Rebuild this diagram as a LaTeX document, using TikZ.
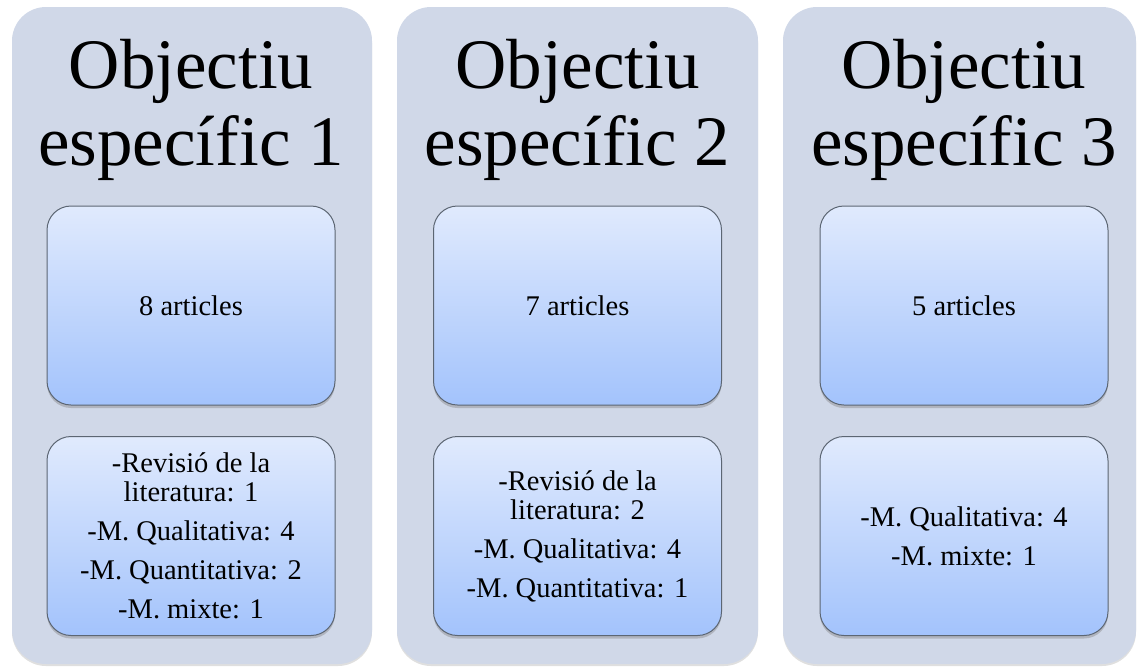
\documentclass[tikz,border=0pt]{standalone}
\usepackage{fontspec}
\setmainfont{Liberation Serif}
\usetikzlibrary{shadows}
\definecolor{panelgray}{HTML}{D0D8E8}
\definecolor{boxtop}{HTML}{E0EAFD}
\definecolor{boxbottom}{HTML}{A3C3FC}
\definecolor{boxline}{HTML}{5C6673}
\tikzset{
  panel/.style={rounded corners=34pt, fill=panelgray, inner sep=0pt,
    minimum height=657pt,
    drop shadow={shadow xshift=0pt, shadow yshift=-2pt, opacity=0.25}},
  countbox/.style={rounded corners=24pt, draw=boxline, line width=1pt,
    top color=boxtop, bottom color=boxbottom, inner sep=0pt,
    minimum width=288pt, minimum height=199pt, align=center,
    font=\fontsize{28.5}{29}\selectfont,
    drop shadow={shadow xshift=0pt, shadow yshift=-3pt, opacity=0.4}},
  title/.style={align=center, font=\fontsize{71}{77}\selectfont}
}
\begin{document}
\begin{tikzpicture}[x=1pt,y=-1pt]
            \useasboundingbox (0,0) rectangle (1139,667);
            % panels
            \node[panel, minimum width=360pt] (p1) at (192,335.5) {};
            \node[panel, minimum width=361pt] (p2) at (577.5,335.5) {};
            \node[panel, minimum width=353pt] (p3) at (959.5,335.5) {};
            % titles
            \node[title] (t1) at (191,110) {Objectiu\\específic 1};
            \node[title] (t2) at (577.5,110) {Objectiu\\específic 2};
            \node[title] (t3) at (964,110) {Objectiu\\específic 3};
            % counts
            \node[countbox] (a1) at (191,305.5) {8 articles};
            \node[countbox] (a2) at (577.5,305.5) {7 articles};
            \node[countbox] (a3) at (964,305.5) {5 articles};
            % methods
            \node[countbox] (m1) at (191,536) {-Revisió de la\\literatura: 1\\[10pt]-M. Qualitativa: 4\\[10pt]-M. Quantitativa: 2\\[10pt]-M. mixte: 1};
            \node[countbox] (m2) at (577.5,536) {-Revisió de la\\literatura: 2\\[10pt]-M. Qualitativa: 4\\[10pt]-M. Quantitativa: 1};
            \node[countbox] (m3) at (964,536) {-M. Qualitativa: 4\\[10pt]-M. mixte: 1};
        \end{tikzpicture}
\end{document}
